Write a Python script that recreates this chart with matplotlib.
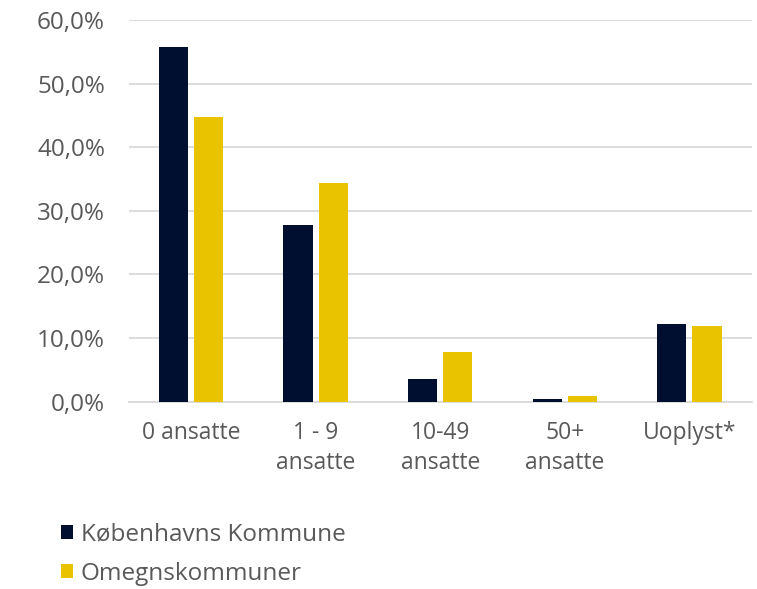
import numpy as np
import matplotlib.pyplot as plt
from matplotlib.ticker import FuncFormatter

categories = ['0 ansatte', '1 - 9\nansatte', '10-49\nansatte', '50+\nansatte', 'Uoplyst*']
kbh = [0.558, 0.277, 0.036, 0.005, 0.122]
omegn = [0.448, 0.344, 0.078, 0.009, 0.119]
series_names = ['Københavns Kommune', 'Omegnskommuner']

navy = '#000E2F'
yellow = '#E9C300'
grey = '#595959'

plt.rcParams['font.family'] = ['Open Sans', 'DejaVu Sans']

fig = plt.figure(figsize=(7.57, 5.89), dpi=100)
ax = fig.add_axes([0.170, 0.318, 0.823, 0.648])

x = np.arange(len(categories))
w = 0.235
b1 = ax.bar(x - w / 2 - 0.024, kbh, w, color=navy, label=series_names[0], zorder=3)
b2 = ax.bar(x + w / 2 + 0.024, omegn, w, color=yellow, label=series_names[1], zorder=3)

ax.set_xlim(-0.5, len(categories) - 0.5)
ax.set_ylim(0, 0.6)
ax.set_yticks(np.arange(0, 0.61, 0.1))
ax.yaxis.set_major_formatter(FuncFormatter(lambda v, p: f'{v * 100:.1f}%'.replace('.', ',')))
ax.set_xticks(x)
ax.set_xticklabels(categories, linespacing=1.3, fontsize=16.5)

ax.grid(axis='y', color='#D9D9D9', linewidth=1.3, zorder=0)
for s in ['top', 'right', 'left']:
    ax.spines[s].set_visible(False)
ax.spines['bottom'].set_color('#D9D9D9')
ax.spines['bottom'].set_linewidth(1.3)
ax.tick_params(axis='y', length=0, labelsize=17.5, colors=grey, pad=17)
ax.tick_params(axis='x', length=0, colors=grey, pad=14)

fig.legend(handles=[b1, b2], loc='lower left', bbox_to_anchor=(0.052, -0.032),
           frameon=False, fontsize=17.5, labelcolor=grey, handlelength=0.5,
           handleheight=0.5, handletextpad=0.3, labelspacing=0.62)

fig.savefig('out.png', dpi=100)
